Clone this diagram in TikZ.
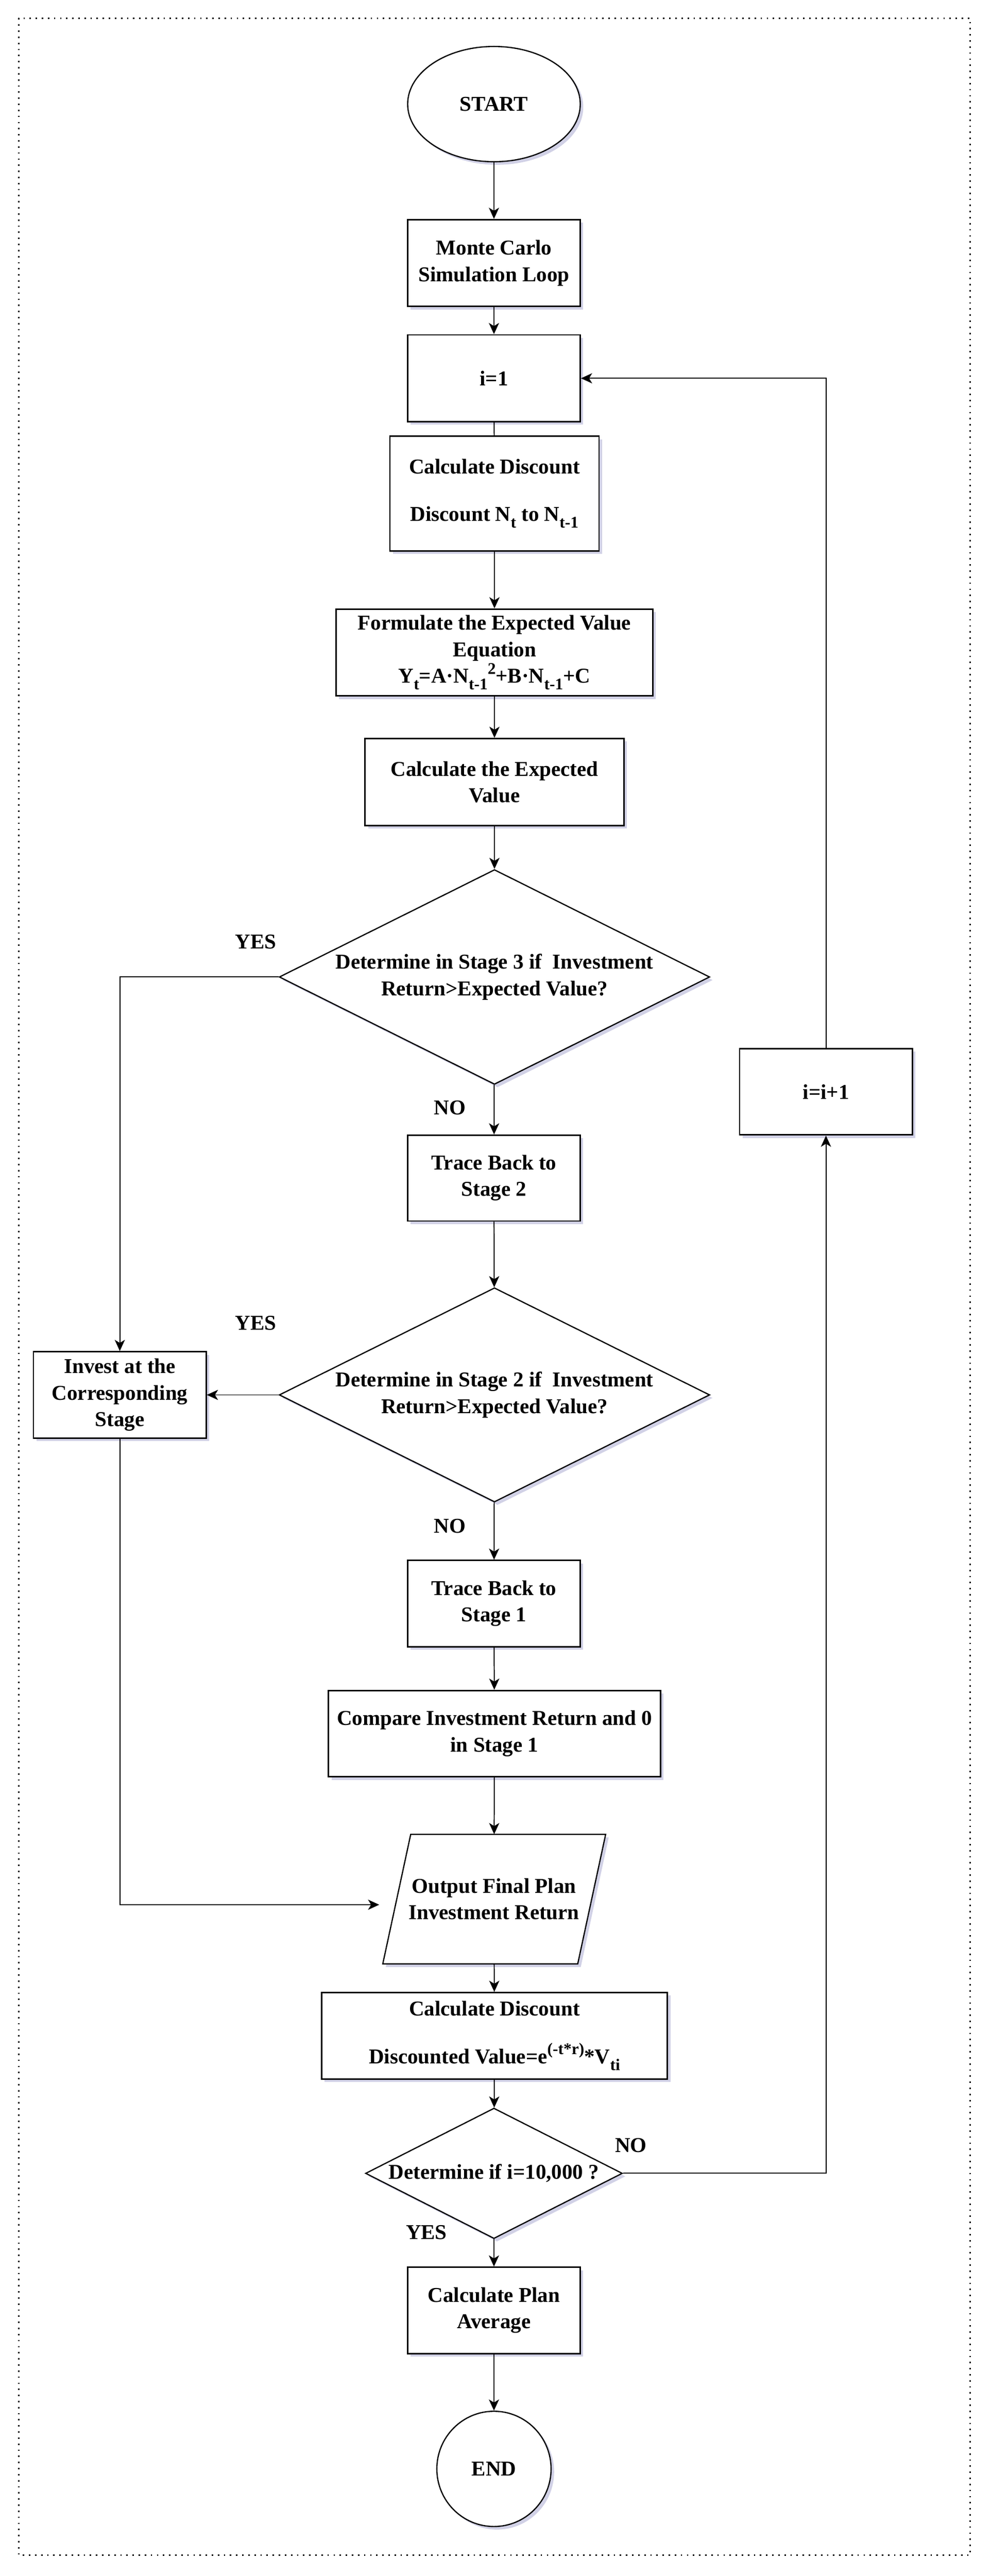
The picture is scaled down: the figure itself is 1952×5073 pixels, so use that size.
\documentclass[tikz,border=0pt]{standalone}
\usepackage{fontspec}
\setmainfont{Liberation Serif}
\usetikzlibrary{shapes.geometric,arrows.meta,shadows,calc}
\newcommand\mysub[1]{\raisebox{-0.32em}{\fontsize{16pt}{16pt}\selectfont #1}}
\newcommand\mysup[1]{\raisebox{0.42em}{\fontsize{16pt}{16pt}\selectfont #1}}
\begin{document}
\begin{tikzpicture}[x=0.5pt,y=-0.5pt,
  font=\fontsize{20.8pt}{26pt}\selectfont\bfseries,
  shd/.style={drop shadow={shadow xshift=3pt,shadow yshift=-3pt,opacity=0.28,fill=blue!30!gray}},
  proc/.style={draw, line width=1.4pt, fill=white, align=center, shd, inner sep=2pt},
  term/.style={ellipse, draw, line width=1.2pt, fill=white, shd, inner sep=0pt},
  dec/.style={diamond, aspect=2, inner sep=0pt, draw, line width=1.2pt, fill=white, align=center, shd},
  conn/.style={line width=1pt, -{Stealth[length=11pt,width=10pt,inset=3pt]}},
  plainline/.style={line width=1pt},
  lbl/.style={inner sep=1pt}
]
\useasboundingbox (0,0) rectangle (1952,5073);
\draw[line width=1.6pt, dash pattern=on 1.4pt off 4.6pt, black] (37,36) rectangle (1911,5032);

\node[term, minimum width=170pt, minimum height=113.5pt] (start) at (973,205) {START};
\node[proc, minimum width=170pt, minimum height=85.5pt] (mc) at (973,518) {Monte Carlo\\Simulation Loop};
\node[proc, minimum width=170pt, minimum height=85.5pt] (i1) at (973,745) {i=1};
\node[proc, minimum width=206pt, minimum height=113pt] (cd1) at (974,972) {Calculate Discount\\[21pt]Discount N\mysub{t} to N\mysub{t-1}};
\node[proc, minimum width=312pt, minimum height=85.5pt] (form) at (974,1285) {Formulate the Expected Value\\Equation\\Y\mysub{t}=A·N\mysub{t-1}\mysup{2}+B·N\mysub{t-1}+C};
\node[proc, minimum width=255pt, minimum height=85.5pt] (cev) at (974,1540) {Calculate the Expected\\Value};
\node[dec, minimum width=424pt, minimum height=211.5pt] (d1) at (974,1924) {Determine in Stage 3 if~ Investment\\Return>Expected Value?};
\node[proc, minimum width=170pt, minimum height=84.5pt] (tb2) at (973,2320) {Trace Back to\\Stage 2};
\node[dec, minimum width=424pt, minimum height=211pt] (d2) at (974,2747) {Determine in Stage 2 if~ Investment\\Return>Expected Value?};
\node[proc, minimum width=170pt, minimum height=85pt] (inv) at (236,2747) {Invest at the\\Corresponding\\Stage};
\node[proc, minimum width=170pt, minimum height=85pt] (inc) at (1627,2150) {i=i+1};
\node[proc, minimum width=170pt, minimum height=85pt] (tb1) at (973,3158) {Trace Back to\\Stage 1};
\node[proc, minimum width=327pt, minimum height=85pt] (cmp) at (974,3414) {Compare Investment Return and 0\\in Stage 1};

\coordinate (outc) at (973,3740);
\draw[line width=1.2pt, fill=white, shd] ($(outc)+(-164,-127.5)$) -- ++(384,0) -- ++(-55,255) -- ++(-384,0) -- cycle;
\node[align=center, minimum width=192pt, minimum height=127.5pt, inner sep=0pt] (out) at (outc) {Output Final Plan\\Investment Return};
\coordinate (outin) at (747,3751);

\node[proc, minimum width=340.5pt, minimum height=85pt] (cd2) at (974,4009) {Calculate Discount\\[21pt]Discounted Value=e\mysup{(-t*r)}*V\mysub{ti}};
\node[dec, minimum width=253pt, minimum height=128.5pt] (d3) at (973,4280) {Determine if i=10,000 ?};
\node[proc, minimum width=170pt, minimum height=85pt] (avg) at (973,4550) {Calculate Plan\\Average};
\node[term, minimum width=112.5pt, minimum height=113.5pt] (end) at (973,4862) {END};

\node[lbl] (yes1) at (504,1855) {YES};
\node[lbl] (no1) at (886,2181) {NO};
\node[lbl] (yes2) at (504,2606) {YES};
\node[lbl] (no2) at (886,3005) {NO};
\node[lbl] (no3) at (1243,4225) {NO};
\node[lbl] (yes3) at (840,4396) {YES};

\draw[conn] (start) -- (mc);
\draw[conn] (mc) -- (i1);
\draw[plainline] (i1) -- (cd1);
\draw[conn] (cd1) -- (form);
\draw[conn] (form) -- (cev);
\draw[conn] (cev) -- (d1);
\draw[conn] (d1.west) -| (inv.north);
\draw[conn] (d1) -- (tb2);
\draw[conn] (tb2) -- (d2);
\draw[conn] (d2.west) -- (inv.east);
\draw[conn] (d2) -- (tb1);
\draw[conn] (tb1) -- (cmp);
\draw[conn] (cmp) -- (out);
\draw[conn] (inv.south) |- (outin);
\draw[conn] (out) -- (cd2);
\draw[conn] (cd2) -- (d3);
\draw[conn] (d3.east) -| (inc.south);
\draw[conn] (inc.north) |- (i1.east);
\draw[conn] (d3) -- (avg);
\draw[conn] (avg) -- (end);
\end{tikzpicture}
\end{document}
